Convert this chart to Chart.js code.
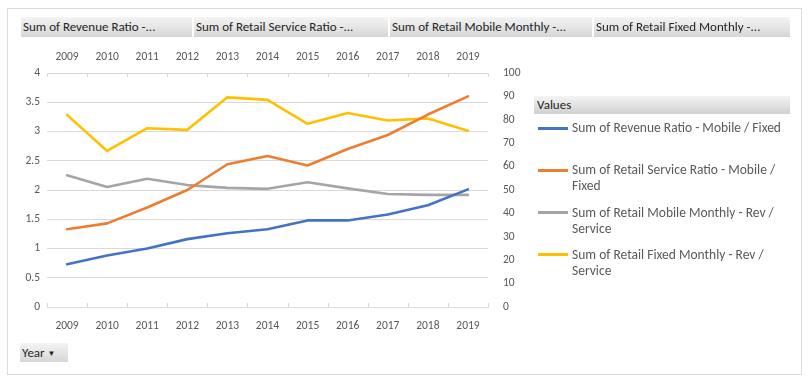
<!DOCTYPE html>
<html><head><meta charset="utf-8">
<script src="https://cdn.jsdelivr.net/npm/chart.js@4/dist/chart.umd.min.js"></script>
<style>
html,body{margin:0;padding:0;background:#fff;}
body{width:811px;height:382px;position:relative;overflow:hidden;font-family:'Carlito','Liberation Sans',sans-serif;}
#frame{position:absolute;left:7px;top:8px;width:795px;height:367px;border:1px solid #dcdcdc;box-sizing:border-box;}
.btn{position:absolute;height:20px;line-height:20px;font-size:13px;color:#262626;background:linear-gradient(#f4f4f4,#d6d6d6);box-sizing:border-box;padding-left:2px;white-space:nowrap;overflow:hidden;}
#cv{position:absolute;left:0;top:0;}
#legend{position:absolute;left:534px;top:96px;width:256px;}
#legend .hdr{height:18px;line-height:18px;font-size:13px;color:#262626;background:linear-gradient(#f4f4f4,#d0d0d0);padding-left:3px;}
#legend .item{position:relative;height:42.3px;}
#legend .sw{position:absolute;left:4px;top:10.5px;width:30px;height:3px;}
#legend .tx{position:absolute;left:38px;top:4px;width:216px;font-size:13.5px;line-height:16px;color:#595959;}
</style></head>
<body>
<div id="frame"></div>
<canvas id="cv" width="811" height="382"></canvas>
<div id="legend"><div class="hdr">Values</div><div style="height:2px"></div></div>
<script>
const years = ['2009','2010','2011','2012','2013','2014','2015','2016','2017','2018','2019'];
const seriesLabels = [
  'Sum of Revenue Ratio - Mobile / Fixed',
  'Sum of Retail Service Ratio - Mobile / Fixed',
  'Sum of Retail Mobile Monthly -  Rev / Service',
  'Sum of Retail Fixed Monthly - Rev / Service'
];
const headerLabels = ['Sum of Revenue Ratio -...','Sum of Retail Service Ratio -...','Sum of Retail Mobile Monthly -...','Sum of Retail Fixed Monthly -...'];
const revenueRatio = [0.73,0.88,1.00,1.16,1.26,1.33,1.48,1.48,1.58,1.74,2.01];
const retailServiceRatio = [1.33,1.43,1.70,2.00,2.44,2.58,2.42,2.70,2.94,3.29,3.60];
const mobileMonthly = [56.3,51.3,54.8,52.1,50.9,50.5,53.3,50.7,48.3,47.9,47.9];
const fixedMonthly = [82.1,66.7,76.4,75.7,89.6,88.5,78.3,82.9,79.7,80.6,75.3];
const colors = ['#4472C4','#ED7D31','#A5A5A5','#FFC000'];

// header buttons
const btnPos = [[21,171],[194,194],[390,202],[594,196]];
headerLabels.forEach((t,i)=>{
  const d=document.createElement('div');d.className='btn';d.textContent=t;
  d.style.left=btnPos[i][0]+'px';d.style.top='17px';d.style.width=btnPos[i][1]+'px';
  document.body.appendChild(d);
});
const yb=document.createElement('div');yb.className='btn';yb.innerHTML='Year <span style="font-size:8px;vertical-align:1px">&#9660;</span>';
yb.style.left='20px';yb.style.top='343px';yb.style.width='48px';yb.style.height='19px';yb.style.lineHeight='19px';
document.body.appendChild(yb);

// legend
const lg=document.getElementById('legend');
seriesLabels.forEach((t,i)=>{
  const it=document.createElement('div');it.className='item';
  it.innerHTML='<div class="sw" style="background:'+colors[i]+'"></div><div class="tx"></div>';
  it.querySelector('.tx').textContent=t;
  lg.appendChild(it);
});

const tickFont={family:"'Carlito','Liberation Sans',sans-serif",size:11.5};
const tickColor='#595959';
const innerTicks={
  id:'innerTicks',
  afterDatasetsDraw(chart){
    const ctx=chart.ctx,a=chart.chartArea,x=chart.scales.x;
    ctx.save();ctx.strokeStyle='#d9d9d9';ctx.lineWidth=1;
    ctx.beginPath();
    ctx.moveTo(a.left,a.top+0.5);ctx.lineTo(a.right,a.top+0.5);
    for(let i=0;i<=years.length;i++){
      const px=Math.round(x.getPixelForValue(i-0.5))+0.5;
      ctx.moveTo(px,a.bottom);ctx.lineTo(px,a.bottom-4);
      ctx.moveTo(px,a.top);ctx.lineTo(px,a.top+4);
    }
    ctx.stroke();ctx.restore();
  }
};
new Chart(document.getElementById('cv'),{
  type:'line',
  data:{labels:years,datasets:[
    {label:seriesLabels[0],data:revenueRatio,borderColor:colors[0],yAxisID:'y'},
    {label:seriesLabels[1],data:retailServiceRatio,borderColor:colors[1],yAxisID:'y'},
    {label:seriesLabels[2],data:mobileMonthly,borderColor:colors[2],yAxisID:'y2'},
    {label:seriesLabels[3],data:fixedMonthly,borderColor:colors[3],yAxisID:'y2'}
  ]},
  options:{
    responsive:false,animation:false,
    layout:{padding:{left:0,right:283,top:48,bottom:50}},
    elements:{line:{borderWidth:2.6,tension:0,borderCapStyle:'round',borderJoinStyle:'round'},point:{radius:0}},
    plugins:{legend:{display:false},tooltip:{enabled:false}},
    scales:{
      x:{type:'category',position:'bottom',offset:true,
        grid:{display:false},border:{color:'#d9d9d9'},
        ticks:{color:tickColor,font:tickFont,padding:4,maxRotation:0,autoSkip:false},
        afterFit(s){s.height=25;}},
      x2:{type:'category',position:'top',offset:true,labels:years,
        grid:{display:false},border:{display:false},
        ticks:{color:tickColor,font:tickFont,padding:1,maxRotation:0,autoSkip:false},
        afterFit(s){s.height=25;}},
      y:{position:'left',min:0,max:4,
        ticks:{stepSize:0.5,color:tickColor,font:tickFont,padding:7,callback:v=>String(+v.toFixed(1))},
        grid:{color:'#d9d9d9',drawTicks:false},border:{display:false},
        afterFit(s){s.width=47;}},
      y2:{position:'right',min:0,max:100,
        ticks:{stepSize:10,color:tickColor,font:tickFont,padding:15},
        grid:{display:false,drawTicks:false},border:{display:false},
        afterFit(s){s.width=40;}}
    }
  },
  plugins:[innerTicks]
});
</script>
</body></html>
